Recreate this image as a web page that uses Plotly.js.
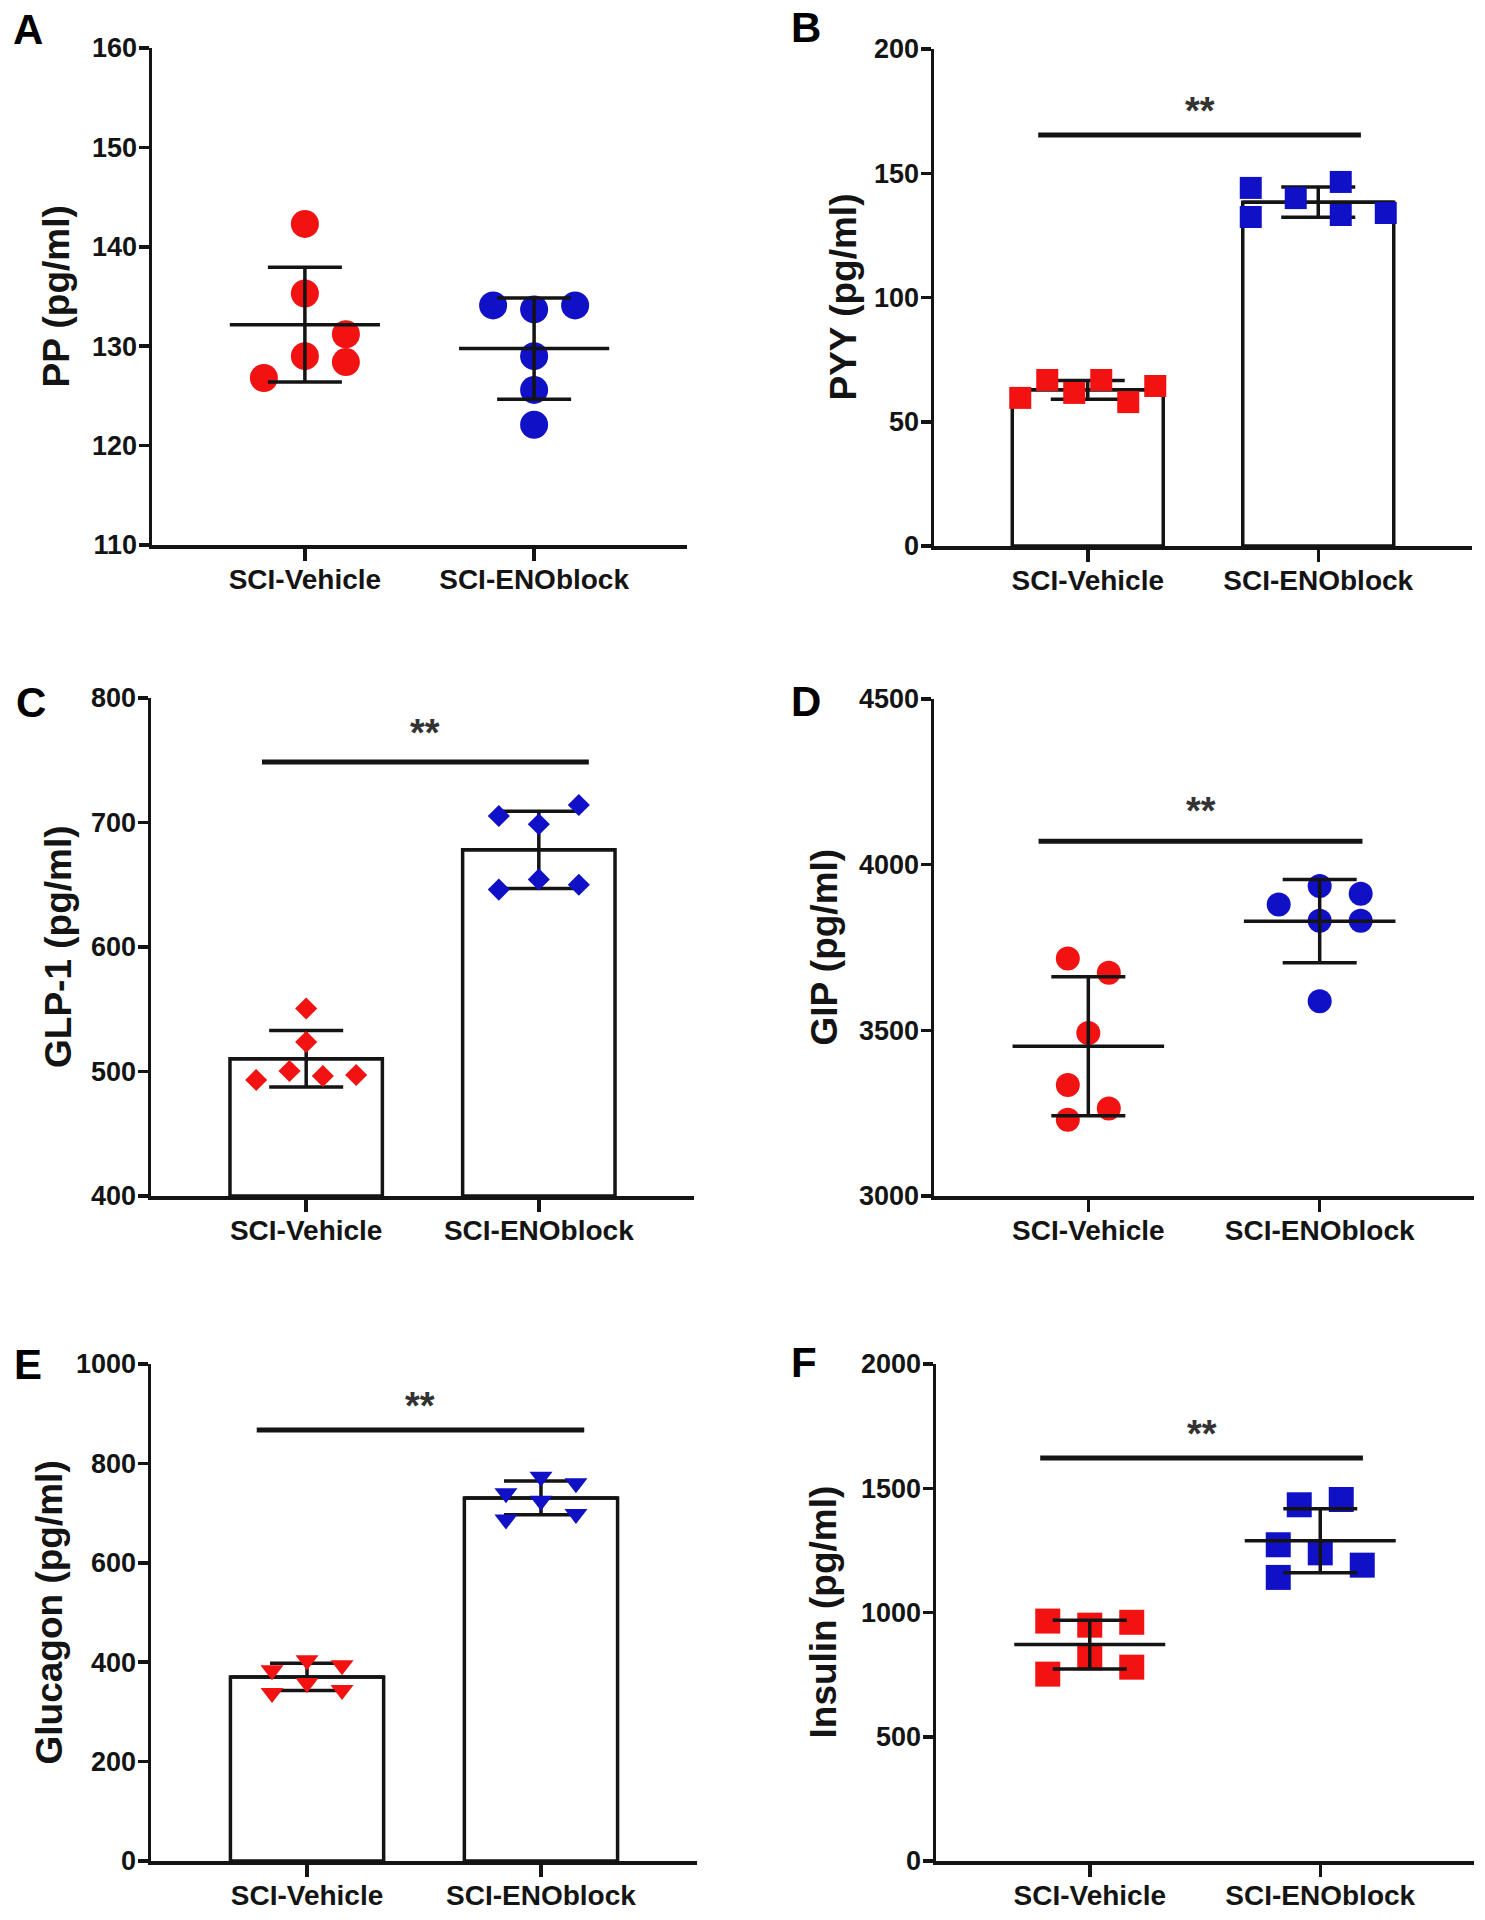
<!DOCTYPE html>
<html>
<head>
<meta charset="utf-8">
<script src="https://cdn.plot.ly/plotly-3.0.1.min.js"></script>
<style>
html,body{margin:0;padding:0;background:#ffffff;}
#chart{width:1485px;height:1920px;}
</style>
</head>
<body>
<div id="chart"></div>
<script>
// ================= DATA =================
const groups = ["SCI-Vehicle", "SCI-ENOblock"];

const ppVehicle        = [126.8, 129.0, 128.4, 131.2, 135.3, 142.3];
const ppENOblock       = [134.1, 133.7, 134.1, 129.0, 125.6, 122.1];
const pyyVehicle       = [59.6, 66.8, 61.6, 66.8, 57.9, 64.4];
const pyyENOblock      = [132.4, 140.0, 133.2, 134.0, 144.1, 146.5];
const glp1Vehicle      = [493.2, 500.4, 496.4, 497.2, 523.7, 550.6];
const glp1ENOblock     = [646.1, 654.3, 650.0, 705.2, 698.6, 714.0];
const gipVehicle       = [3230, 3264, 3335, 3492, 3717, 3674];
const gipENOblock      = [3880, 3831, 3831, 3935.5, 3912, 3588];
const glucagonVehicle  = [338, 358, 344, 384, 404, 394];
const glucagonENOblock = [687, 725, 698, 740, 773, 760];
const insulinVehicle   = [752, 817.7, 780, 965.5, 949.1, 960.6];
const insulinENOblock  = [1141.2, 1240, 1190.5, 1272.6, 1433.5, 1454.8];

const panelLetters = ["A", "B", "C", "D", "E", "F"];
const yTitles = ["PP (pg/ml)", "PYY (pg/ml)", "GLP-1 (pg/ml)", "GIP (pg/ml)", "Glucagon (pg/ml)", "Insulin (pg/ml)"];
const yRanges = [[110, 160], [0, 200], [400, 800], [3000, 4500], [0, 1000], [0, 2000]];
const yDticks = [10, 50, 100, 500, 200, 500];
const sigLabel = "**";
const sigLevels     = [null, 165.4, 748.6, 4071, 867, 1622];
const sigStarLevels = [null, 176.7, 775.1, 4174, 923.5, 1734.4];

// ================= STYLE / LAYOUT =================
const W = 1485, H = 1920;
const FONT = '"Liberation Sans", Arial, Helvetica, sans-serif';
const INK = '#141414';
const groupColors = ['#f21212', '#1010c6'];
const xRange = [-0.667, 1.667];
const barWidth = 0.655;

const panelStyle = [
  {vals: [ppVehicle, ppENOblock], bar: false, symbol: 'circle', size: 28, box: [152, 687, 48, 545], slot: 41, maxSpan: 135, T: 25, D: 25, titleX: 56, letter: [28, 29], sigSpan: null},
  {vals: [pyyVehicle, pyyENOblock], bar: true, symbol: 'square', size: 22, box: [934, 1472, 49, 546], slot: 45, maxSpan: 135, T: 25, D: 25, titleX: 843, letter: [806, 28], sigSpan: [-0.215, 1.185]},
  {vals: [glp1Vehicle, glp1ENOblock], bar: true, symbol: 'diamond', size: 17, box: [151, 694, 698, 1196], slot: 40, maxSpan: 100, T: 25, D: 25, titleX: 59, letter: [31, 702], sigSpan: [-0.19, 1.215]},
  {vals: [gipVehicle, gipENOblock], bar: false, symbol: 'circle', size: 24, box: [934, 1474, 699, 1196], slot: 41, maxSpan: 135, T: 25, D: 25, titleX: 824, letter: [806, 701], sigSpan: [-0.215, 1.185]},
  {vals: [glucagonVehicle, glucagonENOblock], bar: true, symbol: 'triangle-down', size: 20, box: [151, 697, 1364, 1861], slot: 35, maxSpan: 135, T: 21, D: 20, titleX: 49, letter: [28, 1364], sigSpan: [-0.215, 1.185]},
  {vals: [insulinVehicle, insulinENOblock], bar: false, symbol: 'square', size: 25, box: [936, 1474, 1364, 1861], slot: 42, maxSpan: 135, T: 27, D: 25, titleX: 823, letter: [804, 1362], sigSpan: [-0.215, 1.185]}
];

function mean(a) { return a.reduce((s, v) => s + v, 0) / a.length; }
function sd(a) { const m = mean(a); return Math.sqrt(a.reduce((s, v) => s + (v - m) * (v - m), 0) / (a.length - 1)); }

// Column-scatter layout: rows of similar values are spread symmetrically,
// remaining overlaps are resolved by stepping half a slot outward.
function swarmOffsets(values, pxPerY, p) {
  const n = values.length;
  const order = values.map((v, i) => i).sort((a, b) => (values[a] - values[b]) || (a - b));
  const rows = [];
  let cur = null;
  order.forEach(i => {
    if (cur && (values[i] - values[cur[0]]) * pxPerY < p.T) cur.push(i);
    else { cur = [i]; rows.push(cur); }
  });
  const nmax = Math.max(...rows.map(r => r.length));
  const slot = nmax > 1 ? Math.min(p.slot, p.maxSpan / (nmax - 1)) : p.slot;
  const pos = new Array(n);
  const placed = [];
  rows.forEach(r => {
    const members = r.slice().sort((a, b) => a - b);
    members.forEach((i, k) => {
      const want = k - (members.length - 1) / 2;
      const dir = want < 0 ? -1 : 1;
      const cands = [want];
      for (let s = 1; s <= 16; s++) { cands.push(want + dir * s * 0.5, want - dir * s * 0.5); }
      const free = c => placed.every(q => Math.abs(q.c - c) > 0.999 || Math.abs(values[q.i] - values[i]) * pxPerY >= p.D);
      const c = cands.find(free);
      pos[i] = c;
      placed.push({i: i, c: c});
    });
  });
  return pos.map(c => c * slot);
}

const traces = [];
const layout = {
  width: W, height: H,
  margin: {l: 0, r: 0, t: 0, b: 0},
  paper_bgcolor: '#ffffff', plot_bgcolor: 'rgba(0,0,0,0)',
  showlegend: false, hovermode: false,
  font: {family: FONT, color: INK},
  shapes: [], annotations: []
};

panelStyle.forEach((p, i) => {
  const sfx = i === 0 ? '' : String(i + 1);
  const xid = 'x' + sfx, yid = 'y' + sfx;
  const [x0, x1, y0, y1] = p.box;
  const yr = yRanges[i];
  const pxPerX = (x1 - x0) / (xRange[1] - xRange[0]);
  const pxPerY = (y1 - y0) / (yr[1] - yr[0]);

  layout['xaxis' + sfx] = {
    domain: [x0 / W, x1 / W], range: xRange, anchor: yid,
    tickmode: 'array', tickvals: [0, 1], ticktext: groups,
    ticks: 'outside', ticklen: 12, tickwidth: 3.5, tickcolor: INK,
    ticklabelstandoff: -5,
    showline: true, linewidth: 3.5, linecolor: INK,
    showgrid: false, zeroline: false, fixedrange: true,
    tickfont: {family: FONT, size: 28, color: INK, weight: 'bold'}
  };
  layout['yaxis' + sfx] = {
    domain: [1 - y1 / H, 1 - y0 / H], range: yr, anchor: xid,
    tickmode: 'linear', tick0: yr[0], dtick: yDticks[i],
    ticks: 'outside', ticklen: 10, tickwidth: 3.5, tickcolor: INK,
    ticklabelstandoff: -4,
    showline: true, linewidth: 3.5, linecolor: INK,
    showgrid: false, zeroline: false, fixedrange: true,
    tickfont: {family: FONT, size: 27, color: INK, weight: 'bold'}
  };

  const means = p.vals.map(mean);
  const sds = p.vals.map(sd);

  if (p.bar) {
    traces.push({
      type: 'bar', x: [0, 1], y: means.map(m => m - yr[0]), base: [yr[0], yr[0]],
      width: barWidth, xaxis: xid, yaxis: yid,
      marker: {color: '#ffffff', line: {color: INK, width: 3.5}}
    });
  }

  // mean line (horizontal, bar-width long) + SD error bars
  const meanTrace = {
    type: 'scatter', mode: 'markers', x: [0, 1], y: means, xaxis: xid, yaxis: yid,
    marker: {size: 1, color: 'rgba(0,0,0,0)'},
    error_x: {type: 'data', array: [barWidth / 2, barWidth / 2], visible: true, color: INK, thickness: 3.5, width: 0},
    error_y: {type: 'data', array: sds, visible: true, color: INK, thickness: 3.5, width: 37},
    cliponaxis: false
  };

  const pointTraces = p.vals.map((vals, g) => {
    const offs = swarmOffsets(vals, pxPerY, p);
    return {
      type: 'scatter', mode: 'markers', xaxis: xid, yaxis: yid,
      x: vals.map((v, k) => g + offs[k] / pxPerX), y: vals,
      marker: {symbol: p.symbol, size: p.size, color: groupColors[g], line: {width: 0}},
      cliponaxis: false
    };
  });

  if (p.bar) { traces.push(meanTrace); pointTraces.forEach(t => traces.push(t)); }
  else { pointTraces.forEach(t => traces.push(t)); traces.push(meanTrace); }

  if (sigLevels[i] !== null) {
    layout.shapes.push({type: 'line', xref: xid, yref: yid,
      x0: p.sigSpan[0], x1: p.sigSpan[1], y0: sigLevels[i], y1: sigLevels[i],
      line: {color: INK, width: 5}});
    layout.annotations.push({xref: xid, yref: yid, x: (p.sigSpan[0] + p.sigSpan[1]) / 2, y: sigStarLevels[i],
      text: sigLabel, showarrow: false, xanchor: 'center', yanchor: 'middle', yshift: -4,
      font: {family: FONT, size: 38, color: '#333333', weight: 'bold'}});
  }

  layout.annotations.push({xref: 'paper', yref: 'paper', x: p.titleX / W, y: 1 - ((y0 + y1) / 2) / H,
    text: yTitles[i], textangle: -90, showarrow: false, xanchor: 'center', yanchor: 'middle',
    font: {family: FONT, size: 37, color: INK, weight: 'bold'}});
  layout.annotations.push({xref: 'paper', yref: 'paper', x: p.letter[0] / W, y: 1 - p.letter[1] / H,
    text: panelLetters[i], showarrow: false, xanchor: 'center', yanchor: 'middle',
    font: {family: FONT, size: 42, color: '#000000', weight: 'bold'}});
});

Plotly.newPlot('chart', traces, layout, {staticPlot: true, displayModeBar: false});
</script>
</body>
</html>
